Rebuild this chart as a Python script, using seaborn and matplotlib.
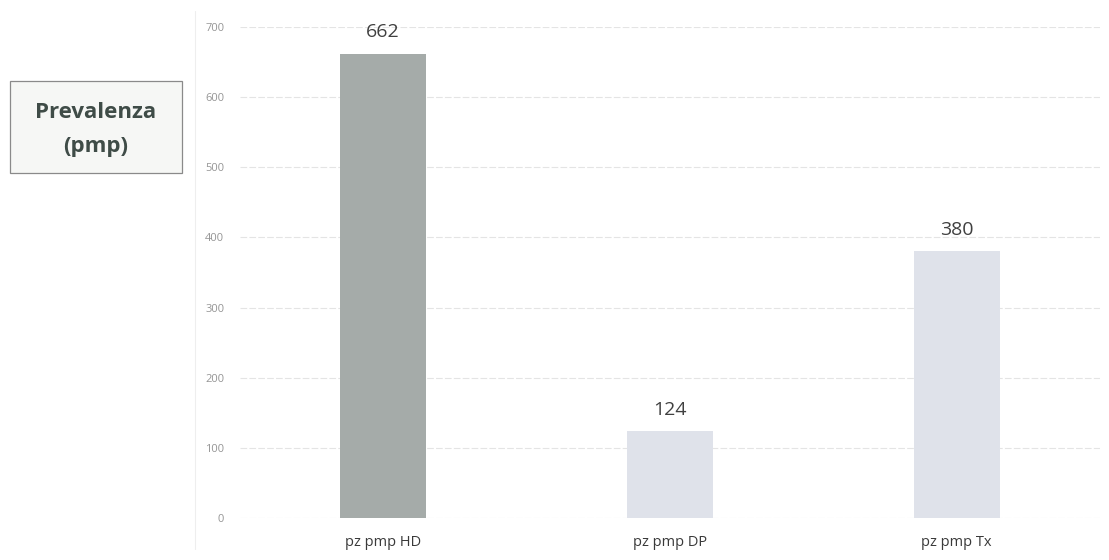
import matplotlib
matplotlib.use("Agg")
import matplotlib.pyplot as plt
from matplotlib.patches import Rectangle
import seaborn as sns
import pandas as pd

categories = ["pz pmp HD", "pz pmp DP", "pz pmp Tx"]
values = [662, 124, 380]
bar_colors = ["#a5aba9", "#dfe2ea", "#dfe2ea"]
y_ticks = [0, 100, 200, 300, 400, 500, 600, 700]

sns.set_theme(style="white")
plt.rcParams["font.family"] = ["Open Sans", "DejaVu Sans"]

df = pd.DataFrame({"categoria": categories, "valore": values})

fig = plt.figure(figsize=(11.09, 5.6), dpi=100)
ax = fig.add_axes([0.216, 0.075, 0.776, 0.877])

sns.barplot(data=df, x="categoria", y="valore", hue="categoria",
            palette=bar_colors, width=0.30, legend=False, ax=ax,
            edgecolor="none", saturation=1)

ax.set_ylim(0, 700)
ax.set_yticks(y_ticks)
ax.set_yticklabels([str(t) for t in y_ticks], fontsize=8, color="#959595")
ax.tick_params(axis="y", length=0, pad=11)
ax.tick_params(axis="x", length=0, pad=12, labelsize=10.5, labelcolor="#3a3a3a")
ax.set_xlabel("")
ax.set_ylabel("")
ax.yaxis.grid(True, color="#e4e4e4", linewidth=0.8, linestyle=(0, (6, 2)))
ax.set_axisbelow(True)
for s in ax.spines.values():
    s.set_visible(False)

for i, v in enumerate(values):
    ax.annotate(str(v), (i, v), xytext=(0, 9), textcoords="offset points",
                ha="center", va="bottom", fontsize=14, color="#404040")

# faint frame line on the left of the plotting area
fig.add_artist(plt.Line2D([0.176, 0.176], [0.02, 0.98], color="#eeeeee", lw=0.8))

# title box
fig.add_artist(Rectangle((0.009, 0.691), 0.155, 0.164, transform=fig.transFigure,
                         facecolor="#f6f7f5", edgecolor="#8a8a8a", linewidth=0.9))
fig.text(0.0866, 0.800, "Prevalenza", ha="center", va="center",
         fontsize=16, fontweight="bold", color="#3f4c47")
fig.text(0.0866, 0.739, "(pmp)", ha="center", va="center",
         fontsize=16, fontweight="bold", color="#3f4c47")

fig.savefig("out.png", dpi=100, facecolor="white")
